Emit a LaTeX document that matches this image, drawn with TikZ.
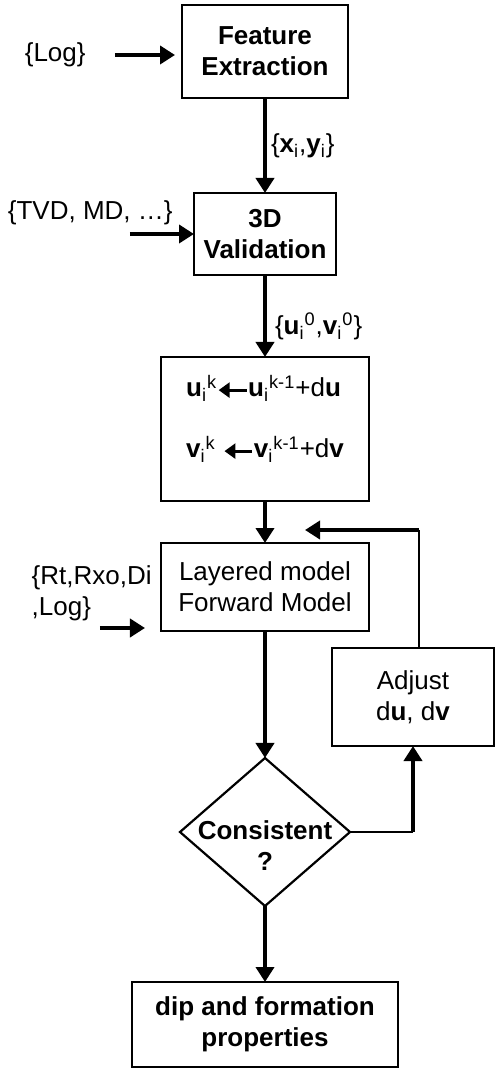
\documentclass[tikz,border=0pt]{standalone}
\usepackage{fontspec}
\setmainfont{Liberation Sans}
\usetikzlibrary{shapes.geometric, arrows.meta, positioning}
\newcommand{\flowfont}{\fontsize{13pt}{15.5pt}\selectfont}
% index and iteration count, written one after the other
\newcommand{\subsup}[2]{\textsubscript{#1}\textsuperscript{#2}}
% short filled arrow for the update rule
\newcommand{\getsarrow}{\tikz[baseline=-0.5ex]\draw[line width=1.5pt, {Triangle[length=5.5pt,width=7.5pt]}-] (0,0) -- (14pt,0);}

\begin{document}
\begin{tikzpicture}[
      box/.style={draw, line width=1.1pt, outer sep=0pt, align=center, font=\flowfont},
      boldbox/.style={box, font=\flowfont\bfseries},
      decision/.style={diamond, draw, line width=1.1pt, outer sep=0pt, inner sep=0pt,
      minimum width=85pt, minimum height=74pt},
      lbl/.style={inner sep=0pt, font=\flowfont},
      arrow/.style={-{Triangle[length=7.5pt, width=9pt]}, line width=2pt},
      feed/.style={line width=1pt}
    ]
    \useasboundingbox (-132.5pt,25.75pt) rectangle (114.5pt,-508.25pt);

    \node[boldbox, minimum width=83pt, minimum height=46.5pt] (feat) {Feature\\Extraction};
    \node[boldbox, minimum width=71pt, minimum height=41pt, below=47.5pt of feat] (valid) {3D\\Validation};
    \node[box, minimum width=104pt, minimum height=72pt, below=41pt of valid,
      label={[lbl, align=left, yshift=5pt]center:
      \textbf{u}\subsup{i}{k}\getsarrow\textbf{u}\subsup{i}{k-1}+d\textbf{u}\\[15pt]
      \textbf{v}\subsup{i}{k} \getsarrow\textbf{v}\subsup{i}{k-1}+d\textbf{v}}] (update) {};
    \node[box, minimum width=104pt, minimum height=44pt, below=21pt of update] (layer) {Layered model\\Forward Model};
    \node[decision, below=63.5pt of layer,
      label={[lbl, font=\flowfont\bfseries, align=center, yshift=-7pt]center:Consistent\\?}] (cons) {};
    \node[boldbox, minimum width=133pt, minimum height=42.5pt, below=38pt of cons] (props) {dip and formation\\properties};
    \node[box, minimum width=81pt, minimum height=49pt, below right=8.5pt and -18.5pt of layer.south east] (adjust)
      {Adjust\\d\textbf{u}, d\textbf{v}};

    % inputs on the left
    \node[lbl, left=48pt of feat, yshift=-1.75pt] (log) {\{Log\}};
    \node[lbl, left=10.5pt of valid.west, yshift=10.5pt] (tvd) {\{TVD, MD, \dots\}};
    \node[lbl, left=4.5pt of layer, yshift=-3pt, align=left] (rt) {\{Rt,Rxo,Di\\,Log\}};

    \draw[arrow, shorten <=14.5pt, shorten >=3.5pt] (log.east) -- (log.east -| feat.west);
    \draw[arrow] ([xshift=-32pt]valid.west) -- (valid.west);
    \draw[arrow] ([xshift=-30.5pt,yshift=1.5pt]layer.south west) -- ([xshift=-8pt,yshift=1.5pt]layer.south west);

    % main flow
    \draw[arrow] (feat) -- node[lbl, right=2pt] {\{\textbf{x}\textsubscript{i},\textbf{y}\textsubscript{i}\}} (valid);
    \draw[arrow] (valid) -- node[lbl, right=4pt, pos=0.63] {\{\textbf{u}\subsup{i}{0},\textbf{v}\subsup{i}{0}\}} (update);
    \draw[arrow] (update) -- (layer);
    \draw[arrow] (layer) -- (cons);
    \draw[arrow] (cons) -- (props);

    % correction loop
    \draw[feed] (cons.east) -- (cons.east -| adjust.south);
    \draw[arrow] (cons.east -| adjust.south) -- (adjust.south);
    \coordinate[above right=6.5pt and 20pt of layer.north] (back);
    \coordinate[right=57pt of back] (turn);
    \draw[feed] (turn |- adjust.north) -- (turn);
    \draw[arrow] (turn) -- (back);
  \end{tikzpicture}
\end{document}
